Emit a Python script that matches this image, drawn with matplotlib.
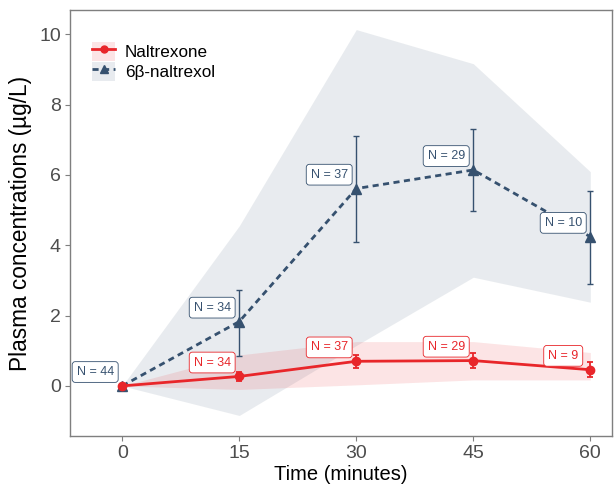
import matplotlib
matplotlib.use("Agg")
import matplotlib.pyplot as plt
from matplotlib.lines import Line2D
from matplotlib.patches import Patch

plt.rcParams['font.family'] = ['Liberation Sans', 'DejaVu Sans']

time_min = [0, 15, 30, 45, 60]

naltrexone_mean = [0.0, 0.27, 0.70, 0.72, 0.46]
naltrexone_err_lo = [0.0, 0.13, 0.18, 0.22, 0.22]
naltrexone_err_hi = [0.0, 0.13, 0.18, 0.21, 0.21]
naltrexone_band_lo = [0.0, -0.10, 0.03, 0.17, 0.17]
naltrexone_band_hi = [0.0, 0.88, 1.26, 1.26, 0.95]
naltrexone_n = [None, 34, 37, 29, 9]

naltrexol_mean = [0.0, 1.83, 5.61, 6.14, 4.24]
naltrexol_err_lo = [0.0, 0.98, 1.53, 1.16, 1.35]
naltrexol_err_hi = [0.0, 0.90, 1.50, 1.15, 1.30]
naltrexol_band_lo = [0.0, -0.84, 1.15, 3.09, 2.38]
naltrexol_band_hi = [0.0, 4.55, 10.13, 9.16, 6.09]
naltrexol_n = [44, 34, 37, 29, 10]

red = '#E8262A'
blue = '#36516F'

fig = plt.figure(figsize=(6.14, 4.87), dpi=100)
ax = fig.add_axes([0.114, 0.105, 0.883, 0.874])

ax.fill_between(time_min, naltrexol_band_lo, naltrexol_band_hi, color=blue, alpha=0.11, lw=0)
ax.fill_between(time_min, naltrexone_band_lo, naltrexone_band_hi, color=red, alpha=0.12, lw=0)

ax.errorbar(time_min, naltrexol_mean, yerr=[naltrexol_err_lo, naltrexol_err_hi],
            fmt='none', ecolor=blue, elinewidth=1.0, capsize=2.5, capthick=1.0)
ax.plot(time_min, naltrexol_mean, color=blue, lw=2.0, ls=(0, (2.2, 1.6)),
        marker='^', ms=7, zorder=3)

ax.errorbar(time_min, naltrexone_mean, yerr=[naltrexone_err_lo, naltrexone_err_hi],
            fmt='none', ecolor=red, elinewidth=1.3, capsize=2.5, capthick=1.3)
ax.plot(time_min, naltrexone_mean, color=red, lw=2.0, marker='o', ms=6, zorder=3)

# N labels, placed up-left of each point
off = (-19.5, 10)
box = 'round,pad=0.35,rounding_size=0.25'
for t, m, n in zip(time_min, naltrexol_mean, naltrexol_n):
    if n is None:
        continue
    ax.annotate(f'N = {n}', (t, m), xytext=off, textcoords='offset points',
                ha='center', va='center', fontsize=9, color=blue, zorder=5,
                bbox=dict(boxstyle=box, fc='white', ec=blue, lw=0.6))
for t, m, n in zip(time_min, naltrexone_mean, naltrexone_n):
    if n is None:
        continue
    ax.annotate(f'N = {n}', (t, m), xytext=off, textcoords='offset points',
                ha='center', va='center', fontsize=9, color=red, zorder=5,
                bbox=dict(boxstyle=box, fc='white', ec=red, lw=0.6))

ax.set_xlim(-6.7, 62.8)
ax.set_ylim(-1.42, 10.68)
ax.set_xticks(time_min)
ax.set_yticks([0, 2, 4, 6, 8, 10])
ax.tick_params(labelsize=14, colors='#7F7F7F', labelcolor='#4D4D4D',
               length=3.5, width=0.8, pad=3)
for s in ax.spines.values():
    s.set_color('#7F7F7F')
    s.set_linewidth(1.0)

ax.set_xlabel('Time (minutes)', fontsize=14.5, labelpad=2)
ax.set_ylabel('Plasma concentrations (µg/L)', fontsize=16.3, labelpad=5)

h1 = (Patch(fc=red, alpha=0.12, lw=0),
      Line2D([], [], color=red, lw=2.0, marker='o', ms=5))
h2 = (Patch(fc=blue, alpha=0.11, lw=0),
      Line2D([], [], color=blue, lw=2.0, ls=(0, (2.2, 1.6)), marker='^', ms=6))
ax.legend([h1, h2], ['Naltrexone', '6β-naltrexol'], loc='upper left',
          bbox_to_anchor=(0.013, 0.962), frameon=False, fontsize=12.3,
          handlelength=1.3, handleheight=1.35, handletextpad=0.6, labelspacing=0.05)

fig.savefig('out.png', dpi=100)
